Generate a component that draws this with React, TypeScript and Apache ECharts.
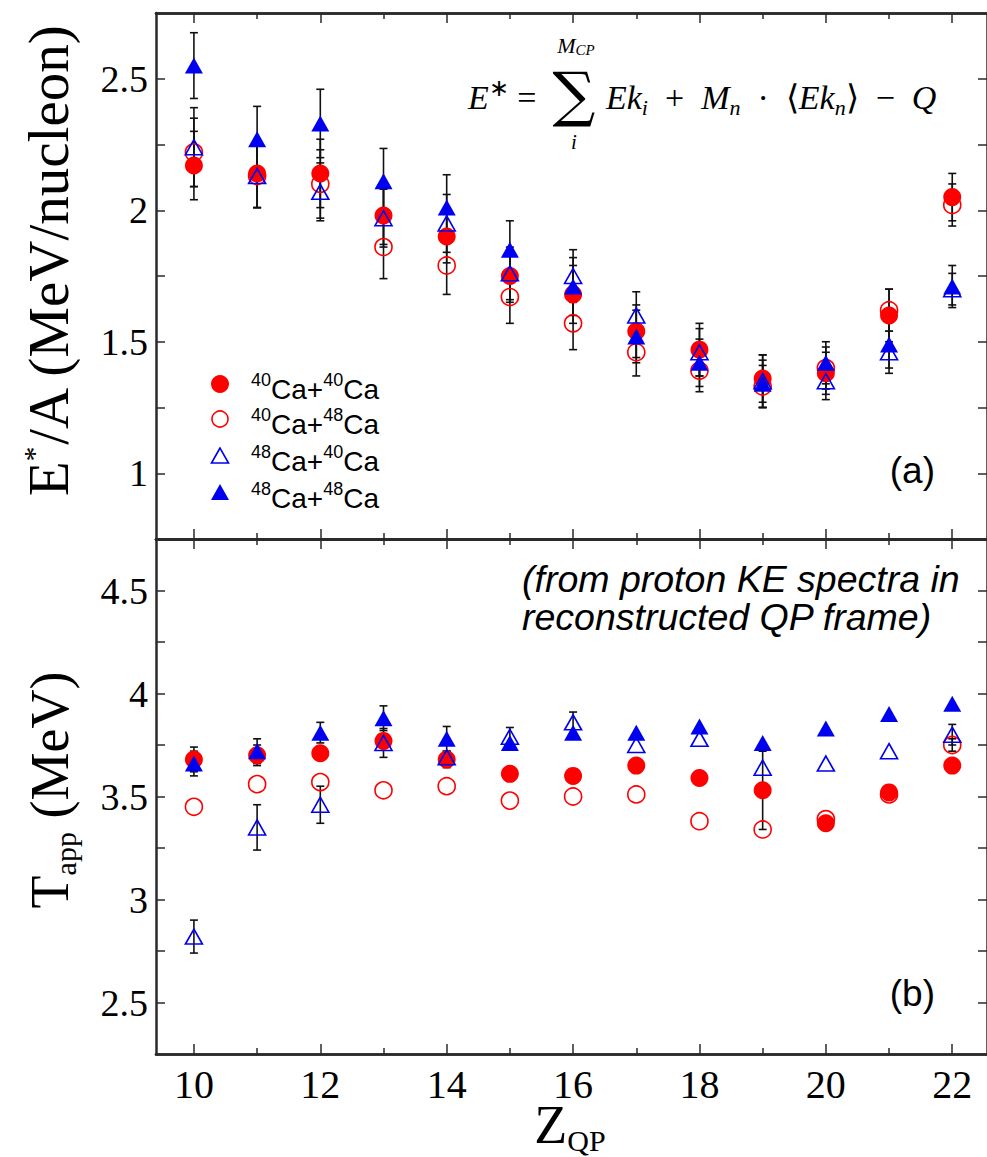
import React, { useEffect, useRef } from "react";
import * as echarts from "echarts";

// ---------- data ----------
const Z = [10, 11, 12, 13, 14, 15, 16, 17, 18, 19, 20, 21, 22];

// panel (a): E*/A (MeV/nucleon)
const eA_40_40 = [2.17, 2.14, 2.14, 1.98, 1.90, 1.75, 1.68, 1.54, 1.47, 1.36, 1.38, 1.60, 2.05];
const eA_40_40_err = [0.13, 0.13, 0.13, 0.11, 0.10, 0.10, 0.11, 0.10, 0.10, 0.09, 0.08, 0.10, 0.09];
const eA_40_48 = [2.22, 2.13, 2.10, 1.86, 1.79, 1.67, 1.57, 1.46, 1.39, 1.33, 1.40, 1.62, 2.02];
const eA_40_48_err = [0.13, 0.12, 0.13, 0.12, 0.11, 0.10, 0.10, 0.09, 0.08, 0.08, 0.08, 0.08, 0.08];
const eA_48_40 = [2.24, 2.13, 2.07, 1.97, 1.95, 1.76, 1.75, 1.60, 1.46, 1.35, 1.35, 1.46, 1.70];
const eA_48_40_err = [0.15, 0.12, 0.11, 0.11, 0.11, 0.10, 0.10, 0.09, 0.09, 0.10, 0.07, 0.08, 0.06];
const eA_48_48 = [2.55, 2.27, 2.33, 2.11, 2.01, 1.85, 1.71, 1.52, 1.42, 1.34, 1.42, 1.49, 1.71];
const eA_48_48_err = [0.125, 0.125, 0.13, 0.125, 0.125, 0.11, 0.11, 0.10, 0.09, 0.09, 0.08, 0.09, 0.08];

// panel (b): T_app (MeV)
const T_40_40 = [3.68, 3.70, 3.71, 3.77, 3.68, 3.61, 3.60, 3.65, 3.59, 3.53, 3.37, 3.52, 3.65];
const T_40_40_err = [0.06, 0.05, 0, 0, 0.04, 0, 0, 0, 0, 0.19, 0, 0, 0];
const T_40_48 = [3.45, 3.56, 3.57, 3.53, 3.55, 3.48, 3.50, 3.51, 3.38, 3.34, 3.39, 3.51, 3.75];
const T_40_48_err = [0, 0, 0, 0, 0, 0, 0, 0, 0, 0, 0, 0, 0.03];
const T_48_40 = [2.82, 3.35, 3.46, 3.76, 3.69, 3.79, 3.86, 3.75, 3.78, 3.64, 3.66, 3.72, 3.80];
const T_48_40_err = [0.08, 0.11, 0.09, 0.07, 0, 0.045, 0.05, 0, 0, 0, 0, 0, 0.05];
const T_48_48 = [3.66, 3.72, 3.81, 3.88, 3.78, 3.76, 3.81, 3.81, 3.84, 3.76, 3.83, 3.90, 3.95];
const T_48_48_err = [0.06, 0.06, 0.05, 0.06, 0.06, 0, 0, 0, 0, 0, 0, 0, 0];

const xEvenTicks = [10, 12, 14, 16, 18, 20, 22];
const xOddTicks = [11, 13, 15, 17, 19, 21];
const yTopTicks = [1, 1.25, 1.5, 1.75, 2, 2.25, 2.5];
const yTopLabels = [1, 1.5, 2, 2.5];
const yBotTicks = [2.5, 2.75, 3, 3.25, 3.5, 3.75, 4, 4.25, 4.5];
const yBotLabels = [2.5, 3, 3.5, 4, 4.5];

const RED = "#ff0000";
const BLUE = "#0000f0";
const AX = "#2a2a2a";
const SERIF = "'Liberation Serif', 'Times New Roman', serif";
const SANS = "'Liberation Sans', Arial, sans-serif";

type Def = { name: string; kind: "fc" | "oc" | "ot" | "ft" };
const defs: Def[] = [
  { name: "40Ca+40Ca", kind: "fc" },
  { name: "40Ca+48Ca", kind: "oc" },
  { name: "48Ca+40Ca", kind: "ot" },
  { name: "48Ca+48Ca", kind: "ft" },
];
const topVals = [eA_40_40, eA_40_48, eA_48_40, eA_48_48];
const topErrs = [eA_40_40_err, eA_40_48_err, eA_48_40_err, eA_48_48_err];
const botVals = [T_40_40, T_40_48, T_48_40, T_48_48];
const botErrs = [T_40_40_err, T_40_48_err, T_48_40_err, T_48_48_err];

function xAxis(grid: number, pos: "top" | "bottom", ticks: number[], len: number, labels: boolean) {
  return {
    type: "value",
    gridIndex: grid,
    position: pos,
    min: 9.4,
    max: 22.55,
    axisLine: { show: true, onZero: false, lineStyle: { color: AX, width: 2.5 } },
    axisTick: { show: true, inside: true, length: len, customValues: ticks, lineStyle: { color: AX, width: 1.5 } },
    axisLabel: labels
      ? { show: true, customValues: xEvenTicks, fontFamily: SERIF, fontSize: 40, color: "#000", margin: 10 }
      : { show: false },
    splitLine: { show: false },
  };
}
function yAxis(grid: number, pos: "left" | "right", min: number, max: number, ticks: number[], labels: number[] | null) {
  return {
    type: "value",
    gridIndex: grid,
    position: pos,
    min,
    max,
    axisLine: { show: true, onZero: false, lineStyle: { color: AX, width: 2.5 } },
    axisTick: { show: true, inside: true, length: 9, customValues: ticks, lineStyle: { color: AX, width: 1.5 } },
    axisLabel: labels
      ? { show: true, customValues: labels, fontFamily: SERIF, fontSize: 38, color: "#000", margin: 8, formatter: (v: number) => String(v) }
      : { show: false },
    splitLine: { show: false },
  };
}

function markerStyle(kind: string) {
  if (kind === "fc") return { symbol: "circle", symbolSize: 18, itemStyle: { color: RED, borderWidth: 0, opacity: 1 } };
  if (kind === "oc") return { symbol: "circle", symbolSize: 17, itemStyle: { color: "rgba(0,0,0,0)", borderColor: RED, borderWidth: 1.6, opacity: 1 } };
  if (kind === "ot") return { symbol: "triangle", symbolSize: [17, 15], itemStyle: { color: "rgba(0,0,0,0)", borderColor: BLUE, borderWidth: 1.6, opacity: 1 } };
  return { symbol: "triangle", symbolSize: [18, 16], itemStyle: { color: BLUE, borderWidth: 0, opacity: 1 } };
}

function errSeries(xi: number, yi: number, vals: number[], errs: number[]) {
  return {
    type: "custom",
    xAxisIndex: xi,
    yAxisIndex: yi,
    z: 1,
    silent: true,
    data: Z.map((z, i) => [z, vals[i] - errs[i], vals[i] + errs[i]]),
    encode: { x: 0, y: [1, 2] },
    renderItem: (_p: any, api: any) => {
      const x = api.value(0);
      if (api.value(2) - api.value(1) <= 0) return null;
      const lo = api.coord([x, api.value(1)]);
      const hi = api.coord([x, api.value(2)]);
      const cw = 4;
      const style = { stroke: "#111", lineWidth: 1.6 };
      return {
        type: "group",
        children: [
          { type: "line", shape: { x1: lo[0], y1: lo[1], x2: hi[0], y2: hi[1] }, style },
          { type: "line", shape: { x1: lo[0] - cw, y1: lo[1], x2: lo[0] + cw, y2: lo[1] }, style },
          { type: "line", shape: { x1: hi[0] - cw, y1: hi[1], x2: hi[0] + cw, y2: hi[1] }, style },
        ],
      };
    },
  };
}

function scatter(name: string, kind: string, xi: number, yi: number, vals: number[]) {
  return {
    type: "scatter",
    name,
    xAxisIndex: xi,
    yAxisIndex: yi,
    z: 3,
    data: Z.map((z, i) => [z, vals[i]]),
    ...markerStyle(kind),
  };
}

export default function App() {
  const ref = useRef<HTMLDivElement>(null);
  useEffect(() => {
    if (!ref.current) return;
    const chart = echarts.init(ref.current, null, { renderer: "svg" });

    const series: any[] = [];
    defs.forEach((d, k) => {
      series.push(errSeries(0, 0, topVals[k], topErrs[k]));
      series.push(errSeries(4, 2, botVals[k], botErrs[k]));
    });
    defs.forEach((d, k) => {
      series.push(scatter(d.name, d.kind, 0, 0, topVals[k]));
      series.push(scatter(d.name, d.kind, 4, 2, botVals[k]));
    });

    const supRich = {
      n: { fontFamily: SANS, fontSize: 28, lineHeight: 32, verticalAlign: "bottom", color: "#000" },
      s: { fontFamily: SANS, fontSize: 18, lineHeight: 17, verticalAlign: "top", color: "#000" },
    };
    const legendRows = [
      { y: 384, text: "{s|40}{n|Ca+}{s|40}{n|Ca}", kind: "fc" },
      { y: 419, text: "{s|40}{n|Ca+}{s|48}{n|Ca}", kind: "oc" },
      { y: 456, text: "{s|48}{n|Ca+}{s|40}{n|Ca}", kind: "ot" },
      { y: 493, text: "{s|48}{n|Ca+}{s|48}{n|Ca}", kind: "ft" },
    ];
    const legendEls: any[] = [];
    legendRows.forEach((r) => {
      const cx = 220;
      if (r.kind === "fc") legendEls.push({ type: "circle", shape: { cx, cy: r.y, r: 9 }, style: { fill: RED } });
      if (r.kind === "oc") legendEls.push({ type: "circle", shape: { cx, cy: r.y, r: 8 }, style: { fill: "none", stroke: RED, lineWidth: 1.6 } });
      if (r.kind === "ot")
        legendEls.push({ type: "polygon", shape: { points: [[cx, r.y - 8], [cx - 8.5, r.y + 7], [cx + 8.5, r.y + 7]] }, style: { fill: "none", stroke: BLUE, lineWidth: 1.6 } });
      if (r.kind === "ft")
        legendEls.push({ type: "polygon", shape: { points: [[cx, r.y - 9], [cx - 9, r.y + 7], [cx + 9, r.y + 7]] }, style: { fill: BLUE } });
      legendEls.push({
        type: "text",
        x: 251,
        y: r.y + 3,
        style: { text: r.text, rich: supRich, textVerticalAlign: "middle", textAlign: "left" },
      });
    });

    const fRich = {
      i: { fontFamily: SERIF, fontStyle: "italic", fontSize: 34, lineHeight: 42, verticalAlign: "middle", color: "#000" },
      r: { fontFamily: SERIF, fontSize: 34, lineHeight: 42, verticalAlign: "middle", color: "#000" },
      sub: { fontFamily: SERIF, fontStyle: "italic", fontSize: 22, lineHeight: 14, verticalAlign: "bottom", color: "#000" },
      sup: { fontFamily: SERIF, fontSize: 24, lineHeight: 20, verticalAlign: "top", color: "#000" },
    };

    const titleRich = {
      n: { fontFamily: SERIF, fontSize: 57, lineHeight: 60, verticalAlign: "middle", color: "#000" },
      s: { fontFamily: SERIF, fontSize: 30, lineHeight: 22, verticalAlign: "top", color: "#000" },
    };
    const titleRichB = {
      n: { fontFamily: SERIF, fontSize: 54, lineHeight: 60, verticalAlign: "middle", color: "#000" },
      b: { fontFamily: SERIF, fontSize: 30, lineHeight: 26, verticalAlign: "bottom", color: "#000" },
    };

    const graphic: any[] = [
      ...legendEls,
      // formula
      { type: "text", x: 468, y: 97, style: { text: "{i|E}{sup|∗}{r| =}", rich: fRich, textVerticalAlign: "middle", textAlign: "left" } },
      { type: "text", x: 574, y: 94, style: { text: "∑", font: `60px 'DejaVu Serif', serif`, fill: "#000", textAlign: "center", textVerticalAlign: "middle" } },
      { type: "text", x: 576, y: 45, style: { text: "{i|M}{sub|CP}", rich: { i: { fontFamily: SERIF, fontStyle: "italic", fontSize: 22, lineHeight: 24, verticalAlign: "middle" }, sub: { fontFamily: SERIF, fontStyle: "italic", fontSize: 15, lineHeight: 12, verticalAlign: "bottom" } }, textAlign: "center", textVerticalAlign: "middle" } },
      { type: "text", x: 574, y: 142, style: { text: "i", font: `italic 21px ${SERIF}`, fill: "#000", textAlign: "center", textVerticalAlign: "middle" } },
      {
        type: "text",
        x: 606,
        y: 97,
        style: {
          text: "{i|Ek}{sub|i}{r|  +  }{i|M}{sub|n}{r|  ·  ⟨}{i|Ek}{sub|n}{r|⟩  −  }{i|Q}",
          rich: fRich,
          textVerticalAlign: "middle",
          textAlign: "left",
        },
      },
      // annotation panel (b)
      {
        type: "text",
        x: 522,
        y: 560,
        style: { text: "(from proton KE spectra in\nreconstructed QP frame)", font: `italic 37.5px ${SANS}`, fill: "#000", lineHeight: 38, textAlign: "left", textVerticalAlign: "top" },
      },
      { type: "text", x: 935, y: 470, style: { text: "(a)", font: `37px ${SANS}`, fill: "#000", textAlign: "right", textVerticalAlign: "middle" } },
      { type: "text", x: 935, y: 993, style: { text: "(b)", font: `37px ${SANS}`, fill: "#000", textAlign: "right", textVerticalAlign: "middle" } },
      // axis titles
      {
        type: "text",
        x: 48,
        y: 260,
        rotation: Math.PI / 2,
        style: { text: "{n|E}{s|*}{n|/A (MeV/nucleon)}", rich: titleRich, textAlign: "center", textVerticalAlign: "middle" },
      },
      {
        type: "text",
        x: 50,
        y: 790,
        rotation: Math.PI / 2,
        style: { text: "{n|T}{b|app}{n| (MeV)}", rich: titleRichB, textAlign: "center", textVerticalAlign: "middle" },
      },
      {
        type: "text",
        x: 570,
        y: 1125,
        style: { text: "{n|Z}{b|QP}", rich: titleRichB, textAlign: "center", textVerticalAlign: "middle" },
      },
    ];

    chart.setOption({
      animation: false,
      backgroundColor: "#ffffff",
      grid: [
        { left: 156, right: 0, top: 13, height: 526, containLabel: false },
        { left: 156, right: 0, top: 539, height: 515, containLabel: false },
      ],
      xAxis: [
        xAxis(0, "bottom", xEvenTicks, 10, false),
        xAxis(0, "bottom", xOddTicks, 6, false),
        xAxis(0, "top", xEvenTicks, 10, false),
        xAxis(0, "top", xOddTicks, 6, false),
        xAxis(1, "bottom", xEvenTicks, 10, true),
        xAxis(1, "bottom", xOddTicks, 6, false),
        xAxis(1, "top", xEvenTicks, 10, false),
        xAxis(1, "top", xOddTicks, 6, false),
      ],
      yAxis: [
        yAxis(0, "left", 0.75, 2.75, yTopTicks, yTopLabels),
        yAxis(0, "right", 0.75, 2.75, yTopTicks, null),
        yAxis(1, "left", 2.25, 4.75, yBotTicks, yBotLabels),
        yAxis(1, "right", 2.25, 4.75, yBotTicks, null),
      ],
      series,
      graphic,
    });
    return () => chart.dispose();
  }, []);
  return <div ref={ref} style={{ position: "absolute", left: 0, top: 0, width: 987, height: 1157 }} />;
}
